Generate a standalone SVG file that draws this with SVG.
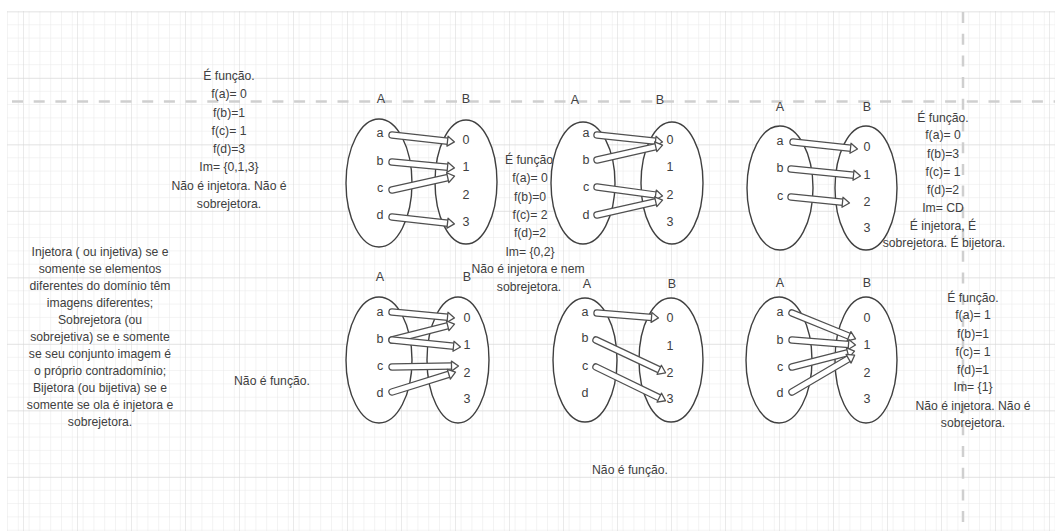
<svg xmlns="http://www.w3.org/2000/svg" width="1055" height="531" viewBox="0 0 1055 531">
<defs>
<pattern id="minor" x="7" y="11" width="10.8" height="13.3" patternUnits="userSpaceOnUse">
<path d="M0,0 V13.3 M0,0 H10.8" fill="none" stroke="#e8e8e8" stroke-width="1"/>
</pattern>
<pattern id="major" x="23" y="11.5" width="54" height="66.5" patternUnits="userSpaceOnUse">
<path d="M0,0 V66.5 M0,0 H54" fill="none" stroke="#d6d6d6" stroke-width="1"/>
</pattern>
<marker id="head" markerUnits="userSpaceOnUse" markerWidth="12" markerHeight="14" refX="0" refY="0" orient="auto" overflow="visible">
<path d="M-0.5,-5 L6.5,0 L-0.5,5 Z" fill="#fff" stroke="#505050" stroke-width="1.3" stroke-linejoin="round"/>
</marker>
</defs>
<style>
text{font-family:"Liberation Sans",Arial,sans-serif;fill:#404040;}
.t{font-size:12.2px;text-anchor:middle;}
.lbl{font-size:12.5px;text-anchor:middle;}
.set{fill:#fff;stroke:#404040;stroke-width:1.4;}
.o{stroke:#505050;stroke-width:7.5;stroke-linecap:round;fill:none;}
.i{stroke:#fff;stroke-width:5;stroke-linecap:round;fill:none;}
.dash{stroke:#cfcfcf;stroke-width:2.5;stroke-dasharray:11,10.7;fill:none;}
</style>
<rect width="1055" height="531" fill="#fff"/>
<g id="grid">
<rect x="7" y="11" width="1048" height="520" fill="url(#minor)"/>
<rect x="7" y="11" width="1048" height="520" fill="url(#major)"/>
<line class="dash" x1="12" y1="101.5" x2="1055" y2="101.5"/>
<line class="dash" x1="963" y1="12" x2="963" y2="531"/>
</g>

<g id="note-top-left">
<text class="t" x="229" y="80">É função.</text>
<text class="t" x="229" y="98">f(a)= 0</text>
<text class="t" x="229" y="116.5">f(b)=1</text>
<text class="t" x="229" y="134.5">f(c)= 1</text>
<text class="t" x="229" y="152.5">f(d)=3</text>
<text class="t" x="229" y="171">Im= {0,1,3}</text>
<text class="t" x="229" y="189.5">Não é injetora. Não é</text>
<text class="t" x="229" y="207.5">sobrejetora.</text>
</g>

<g id="note-top-middle">
<text class="t" x="529" y="164">É função</text>
<text class="t" x="530" y="182">f(a)= 0</text>
<text class="t" x="530" y="201">f(b)=0</text>
<text class="t" x="530" y="219">f(c)= 2</text>
<text class="t" x="530" y="237">f(d)=2</text>
<text class="t" x="530" y="256">Im= {0,2}</text>
<text class="t" x="528" y="272.5">Não é injetora e nem</text>
<text class="t" x="529" y="291">sobrejetora.</text>
</g>

<g id="note-top-right">
<text class="t" x="943" y="122">É função.</text>
<text class="t" x="943" y="139">f(a)= 0</text>
<text class="t" x="943" y="158">f(b)=3</text>
<text class="t" x="943" y="176">f(c)= 1</text>
<text class="t" x="943" y="194">f(d)=2</text>
<text class="t" x="943" y="212">Im= CD</text>
<text class="t" x="943" y="230">É injetora, É</text>
<text class="t" x="944" y="247">sobrejetora. É bijetora.</text>
</g>

<g id="note-definitions">
<text class="t" x="100" y="256">Injetora ( ou injetiva) se e</text>
<text class="t" x="100" y="273">somente se elementos</text>
<text class="t" x="100" y="290">diferentes do domínio têm</text>
<text class="t" x="100" y="307">imagens diferentes;</text>
<text class="t" x="100" y="324">Sobrejetora (ou</text>
<text class="t" x="100" y="341">sobrejetiva) se e somente</text>
<text class="t" x="100" y="358">se seu conjunto imagem é</text>
<text class="t" x="100" y="375">o próprio contradomínio;</text>
<text class="t" x="100" y="392">Bijetora (ou bijetiva) se e</text>
<text class="t" x="100" y="409">somente se ola é injetora e</text>
<text class="t" x="100" y="426">sobrejetora.</text>
</g>

<g id="note-bottom-left">
<text class="t" x="272" y="385">Não é função.</text>
</g>

<g id="note-bottom-middle">
<text class="t" x="630" y="474">Não é função.</text>
</g>

<g id="note-bottom-right">
<text class="t" x="973" y="302">É função.</text>
<text class="t" x="973" y="319">f(a)= 1</text>
<text class="t" x="973" y="338">f(b)=1</text>
<text class="t" x="973" y="356">f(c)= 1</text>
<text class="t" x="973" y="374">f(d)=1</text>
<text class="t" x="973" y="391">Im= {1}</text>
<text class="t" x="973" y="410">Não é injetora. Não é</text>
<text class="t" x="973" y="427">sobrejetora.</text>
</g>

<!-- Diagram 1 -->
<g id="d1-setA">
<ellipse class="set" cx="379" cy="183" rx="33" ry="64"/>
<text class="lbl" x="381" y="103">A</text>
<text class="lbl" x="380" y="137">a</text><text class="lbl" x="380" y="165">b</text>
<text class="lbl" x="380" y="192">c</text><text class="lbl" x="380" y="219">d</text>
</g>
<g id="d1-setB">
<ellipse class="set" cx="466" cy="182" rx="31" ry="62"/>
<text class="lbl" x="466" y="103">B</text>
<text class="lbl" x="466" y="144">0</text><text class="lbl" x="466" y="171">1</text>
<text class="lbl" x="466" y="199">2</text><text class="lbl" x="466" y="226">3</text>
</g>

<!-- Diagram 2 -->
<g id="d2-setA">
<ellipse class="set" cx="583" cy="183" rx="32" ry="61"/>
<text class="lbl" x="575" y="104">A</text>
<text class="lbl" x="586" y="137">a</text><text class="lbl" x="586" y="164">b</text>
<text class="lbl" x="586" y="191">c</text><text class="lbl" x="586" y="219">d</text>
</g>
<g id="d2-setB">
<ellipse class="set" cx="672" cy="183" rx="31" ry="61"/>
<text class="lbl" x="660" y="104">B</text>
<text class="lbl" x="670" y="144">0</text><text class="lbl" x="670" y="171">1</text>
<text class="lbl" x="670" y="199">2</text><text class="lbl" x="670" y="226">3</text>
</g>

<!-- Diagram 3 -->
<g id="d3-setA">
<ellipse class="set" cx="780" cy="188" rx="33" ry="62"/>
<text class="lbl" x="780" y="111">A</text>
<text class="lbl" x="780" y="145">a</text><text class="lbl" x="780" y="172">b</text>
<text class="lbl" x="780" y="200">c</text>
</g>
<g id="d3-setB">
<ellipse class="set" cx="866" cy="188" rx="31" ry="62"/>
<text class="lbl" x="867" y="111">B</text>
<text class="lbl" x="867" y="151">0</text><text class="lbl" x="867" y="179">1</text>
<text class="lbl" x="867" y="206">2</text><text class="lbl" x="867" y="232">3</text>
</g>

<!-- Diagram 4 -->
<g id="d4-setA">
<ellipse class="set" cx="379" cy="360" rx="33" ry="63"/>
<text class="lbl" x="380" y="281">A</text>
<text class="lbl" x="380" y="316">a</text><text class="lbl" x="380" y="343">b</text>
<text class="lbl" x="380" y="370">c</text><text class="lbl" x="380" y="397">d</text>
</g>
<g id="d4-setB">
<ellipse class="set" cx="458" cy="360" rx="31" ry="63"/>
<text class="lbl" x="467" y="281">B</text>
<text class="lbl" x="467" y="322">0</text><text class="lbl" x="467" y="349">1</text>
<text class="lbl" x="467" y="377">2</text><text class="lbl" x="467" y="403">3</text>
</g>

<!-- Diagram 5 -->
<g id="d5-setA">
<ellipse class="set" cx="585" cy="360" rx="32" ry="62"/>
<text class="lbl" x="587" y="288">A</text>
<text class="lbl" x="585" y="316">a</text><text class="lbl" x="585" y="342">b</text>
<text class="lbl" x="585" y="370">c</text><text class="lbl" x="585" y="397">d</text>
</g>
<g id="d5-setB">
<ellipse class="set" cx="671" cy="360" rx="32" ry="62"/>
<text class="lbl" x="672" y="288">B</text>
<text class="lbl" x="670" y="322">0</text><text class="lbl" x="670" y="350">1</text>
<text class="lbl" x="670" y="377">2</text><text class="lbl" x="670" y="403">3</text>
</g>

<!-- Diagram 6 -->
<g id="d6-setA">
<ellipse class="set" cx="779" cy="360" rx="33" ry="63"/>
<text class="lbl" x="780" y="287">A</text>
<text class="lbl" x="780" y="316">a</text><text class="lbl" x="780" y="344">b</text>
<text class="lbl" x="780" y="371">c</text><text class="lbl" x="780" y="397">d</text>
</g>
<g id="d6-setB">
<ellipse class="set" cx="866" cy="360" rx="31" ry="63"/>
<text class="lbl" x="867" y="287">B</text>
<text class="lbl" x="867" y="322">0</text><text class="lbl" x="867" y="349">1</text>
<text class="lbl" x="867" y="377">2</text><text class="lbl" x="867" y="403">3</text>
</g>

<g id="connectors">
<!-- d1 -->
<line class="o" x1="392" y1="135" x2="448" y2="141.2"/><line class="i" x1="392" y1="135" x2="448" y2="141.2" marker-end="url(#head)"/>
<line class="o" x1="392" y1="162" x2="448" y2="167.3"/><line class="i" x1="392" y1="162" x2="448" y2="167.3" marker-end="url(#head)"/>
<line class="o" x1="392" y1="190" x2="448.2" y2="177.5"/><line class="i" x1="392" y1="190" x2="448.2" y2="177.5" marker-end="url(#head)"/>
<line class="o" x1="392" y1="217" x2="448" y2="223.2"/><line class="i" x1="392" y1="217" x2="448" y2="223.2" marker-end="url(#head)"/>
<!-- d2 -->
<line class="o" x1="597" y1="135" x2="656" y2="141.3"/><line class="i" x1="597" y1="135" x2="656" y2="141.3" marker-end="url(#head)"/>
<line class="o" x1="597" y1="160" x2="656.2" y2="146.6"/><line class="i" x1="597" y1="160" x2="656.2" y2="146.6" marker-end="url(#head)"/>
<line class="o" x1="597" y1="187" x2="656.1" y2="195.1"/><line class="i" x1="597" y1="187" x2="656.1" y2="195.1" marker-end="url(#head)"/>
<line class="o" x1="597" y1="215" x2="656.2" y2="201.6"/><line class="i" x1="597" y1="215" x2="656.2" y2="201.6" marker-end="url(#head)"/>
<!-- d3 -->
<line class="o" x1="793" y1="142" x2="851" y2="148.3"/><line class="i" x1="793" y1="142" x2="851" y2="148.3" marker-end="url(#head)"/>
<line class="o" x1="791" y1="169" x2="854" y2="175.3"/><line class="i" x1="791" y1="169" x2="854" y2="175.3" marker-end="url(#head)"/>
<line class="o" x1="791" y1="197" x2="843" y2="202.3"/><line class="i" x1="791" y1="197" x2="843" y2="202.3" marker-end="url(#head)"/>
<!-- d4 -->
<line class="o" x1="392" y1="312" x2="448" y2="317.3"/><line class="i" x1="392" y1="312" x2="448" y2="317.3" marker-end="url(#head)"/>
<line class="o" x1="392" y1="340" x2="448.2" y2="325.7"/><line class="i" x1="392" y1="340" x2="448.2" y2="325.7" marker-end="url(#head)"/>
<line class="o" x1="392" y1="340" x2="454" y2="346.3"/><line class="i" x1="392" y1="340" x2="454" y2="346.3" marker-end="url(#head)"/>
<line class="o" x1="392" y1="367" x2="452" y2="366.1"/><line class="i" x1="392" y1="367" x2="452" y2="366.1" marker-end="url(#head)"/>
<line class="o" x1="392" y1="392" x2="449.3" y2="374.1"/><line class="i" x1="392" y1="392" x2="449.3" y2="374.1" marker-end="url(#head)"/>
<!-- d5 -->
<line class="o" x1="597" y1="313" x2="652" y2="317.4"/><line class="i" x1="597" y1="313" x2="652" y2="317.4" marker-end="url(#head)"/>
<line class="o" x1="596" y1="340" x2="659.7" y2="370"/><line class="i" x1="596" y1="340" x2="659.7" y2="370" marker-end="url(#head)"/>
<line class="o" x1="596" y1="367" x2="659.7" y2="397.9"/><line class="i" x1="596" y1="367" x2="659.7" y2="397.9" marker-end="url(#head)"/>
<!-- d6 -->
<line class="o" x1="792" y1="313" x2="849.5" y2="336.4"/><line class="i" x1="792" y1="313" x2="849.5" y2="336.4" marker-end="url(#head)"/>
<line class="o" x1="792" y1="340" x2="849" y2="344.5"/><line class="i" x1="792" y1="340" x2="849" y2="344.5" marker-end="url(#head)"/>
<line class="o" x1="792" y1="367" x2="848.2" y2="352.7"/><line class="i" x1="792" y1="367" x2="848.2" y2="352.7" marker-end="url(#head)"/>
<line class="o" x1="792" y1="392" x2="849" y2="358.5"/><line class="i" x1="792" y1="392" x2="849" y2="358.5" marker-end="url(#head)"/>
</g>
</svg>
